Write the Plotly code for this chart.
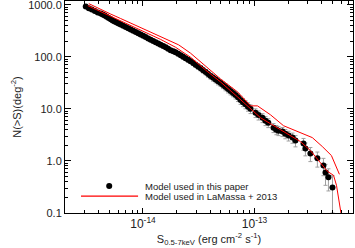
import plotly.graph_objects as go

# Black points: model used in this paper (flux in erg cm^-2 s^-1, N(>S) in deg^-2)
flux_paper = [
    3.07e-15, 3.27e-15, 3.48e-15, 3.70e-15, 3.93e-15, 4.18e-15, 4.36e-15, 4.54e-15,
    4.73e-15, 4.93e-15, 5.14e-15, 5.35e-15, 5.57e-15, 5.81e-15, 6.05e-15, 6.31e-15,
    6.65e-15, 7.00e-15, 7.37e-15, 7.76e-15, 8.17e-15, 8.61e-15, 9.06e-15, 9.53e-15,
    1.005e-14, 1.057e-14, 1.114e-14, 1.172e-14, 1.235e-14, 1.30e-14, 1.37e-14, 1.44e-14,
    1.52e-14, 1.60e-14, 1.68e-14, 1.77e-14, 1.87e-14, 1.96e-14, 2.07e-14, 2.18e-14,
    2.29e-14, 2.41e-14, 2.54e-14, 2.67e-14, 2.82e-14, 2.96e-14, 3.12e-14, 3.29e-14,
    3.46e-14, 3.65e-14, 3.84e-14, 4.04e-14, 4.26e-14, 4.48e-14, 4.71e-14, 4.97e-14,
    5.22e-14, 5.50e-14, 5.79e-14, 6.10e-14, 6.42e-14, 6.76e-14, 7.11e-14, 7.50e-14,
    7.88e-14, 8.30e-14, 8.75e-14, 9.21e-14, 1.021e-13, 1.087e-13, 1.18e-13, 1.255e-13,
    1.33e-13, 1.48e-13, 1.57e-13, 1.64e-13, 1.78e-13, 1.89e-13, 2.02e-13, 2.19e-13,
    2.33e-13, 2.75e-13, 2.86e-13, 3.17e-13, 3.66e-13, 4.15e-13, 4.33e-13, 4.60e-13,
    5.00e-13,
]
n_paper = [
    917, 857, 803, 752, 704, 674, 645, 617,
    584, 553, 524, 496, 475, 454, 435, 416,
    394, 372, 352, 334, 316, 299, 283, 268,
    254, 240, 225, 211, 200, 189, 179, 169,
    160, 152, 142, 133, 127, 122, 114, 107,
    100, 93.6, 87.6, 82, 76, 70.5, 65.3, 60.4,
    55.3, 50.7, 46.4, 42.5, 39.4, 36.5, 33.8, 31.3,
    28.6, 26.2, 24.0, 22.0, 20.2, 18.5, 16.6, 14.8,
    13.4, 12.2, 11.0, 10.0, 8.39, 7.6, 6.74, 5.91,
    5.41, 4.35, 3.98, 3.81, 3.65, 3.34, 3.06, 2.80,
    2.46, 2.15, 1.73, 1.39, 1.12, 0.82, 0.60, 0.485,
    0.31,
]
err_paper = [
    30, 28, 27, 26, 25, 24, 24, 23,
    23, 22, 22, 21, 21, 20, 20, 19,
    19, 18, 18, 17, 17, 16, 16, 15,
    15, 14, 14, 13, 13, 12.5, 12.5, 12,
    11.5, 11, 10.5, 10, 10, 9.5, 9.5, 9,
    9, 8.5, 8.5, 8, 8, 7.5, 7.5, 7,
    6.5, 6, 6, 5.5, 5.5, 5, 5, 4.5,
    4.2, 4, 3.8, 3.5, 3.2, 3, 2.8, 2.6,
    2.4, 2.2, 2.0, 1.9, 1.6, 1.5, 1.3, 1.15,
    1.05, 0.85, 0.8, 0.75, 0.72, 0.68, 0.65, 0.62,
    0.6, 0.55, 0.48, 0.42, 0.36, 0.3, 0.26, 0.22,
    0.21,
]

# Red lines: model used in LaMassa + 2013 (upper and lower curves)
flux_lm_hi = [
    3.27e-15, 4.18e-15, 5.14e-15, 6.31e-15, 7.76e-15, 9.53e-15, 1.172e-14, 1.44e-14,
    1.77e-14, 2.09e-14, 2.67e-14, 3.65e-14, 4.97e-14, 7.05e-14, 8.30e-14, 9.21e-14,
    1.064e-13, 1.205e-13, 1.39e-13, 1.82e-13, 2.75e-13, 3.30e-13, 4.05e-13, 4.89e-13,
    5.77e-13,
]
n_lm_hi = [
    1045, 803, 659, 541, 444, 365, 299, 246,
    202, 169, 117, 65.9, 37.3, 21.1, 14.8, 11.4,
    11.4, 9.57, 7.69, 4.74, 3.34, 2.80, 1.89, 1.27,
    0.553,
]
flux_lm_lo = [
    3.20e-15, 4.18e-15, 6.31e-15, 9.53e-15, 1.44e-14, 1.96e-14, 2.67e-14, 3.65e-14,
    4.97e-14, 7.05e-14, 9.21e-14, 1.132e-13, 1.39e-13, 1.89e-13, 2.58e-13, 3.17e-13,
    3.90e-13, 4.51e-13, 5.11e-13, 5.43e-13, 6.14e-13,
]
n_lm_lo = [
    957, 736, 474, 320, 215, 152, 97.8, 55.3,
    32.7, 16.9, 10.0, 6.74, 5.18, 3.49, 2.35, 1.58,
    0.936, 0.631, 0.529, 0.341, 0.0675,
]

y_tickvals = [0.1, 1, 10, 100, 1000]
y_ticktext = ["0.1", "1.0", "10.0", "100.0", "1000.0"]
x_tickvals = [1e-14, 1e-13]
x_ticktext = ["10<sup>-14</sup>", "10<sup>-13</sup>"]

legend_labels = ["Model used in this paper", "Model used in LaMassa + 2013"]

FONT = "Liberation Sans, Arial, sans-serif"
RED = "#ff0000"

fig = go.Figure()

fig.add_trace(go.Scatter(
    x=flux_paper, y=n_paper,
    mode="markers",
    marker=dict(color="black", size=6),
    error_y=dict(type="data", array=err_paper, color="#a0a0a0", thickness=1, width=2),
    showlegend=False,
))
for fx, ny in [(flux_lm_hi, n_lm_hi), (flux_lm_lo, n_lm_lo)]:
    fig.add_trace(go.Scatter(
        x=fx, y=ny, mode="lines",
        line=dict(color=RED, width=1),
        showlegend=False,
    ))

axis_common = dict(
    type="log",
    showgrid=False,
    zeroline=False,
    showline=True,
    linecolor="black",
    linewidth=1,
    mirror="allticks",
    ticks="inside",
    tickcolor="black",
    automargin=False,
    ticklabeloverflow="allow",
    minor=dict(ticks="inside", ticklen=3, tickcolor="black", dtick="D1", showgrid=False),
)

fig.update_layout(
    width=355, height=248,
    margin=dict(l=65, r=2, t=1, b=35),
    paper_bgcolor="white", plot_bgcolor="white",
    font=dict(family=FONT, color="#222"),
    xaxis=dict(
        axis_common,
        range=[-14.699, -12.117],
        tickvals=x_tickvals, ticktext=x_ticktext,
        ticklen=5,
        tickfont=dict(family=FONT, size=12, color="#222"),
        title=dict(text="S<sub>0.5-7keV</sub> (erg cm<sup>-2</sup> s<sup>-1</sup>)",
                   font=dict(family=FONT, size=11), standoff=2),
    ),
    yaxis=dict(
        axis_common,
        range=[-1, 3.07],
        tickvals=y_tickvals, ticktext=y_ticktext,
        ticklen=6,
        tickfont=dict(family=FONT, size=11, color="#222"),
        title=dict(text="N(>S)(deg<sup>-2</sup>)", font=dict(family=FONT, size=11), standoff=4),
    ),
)

# legend drawn by hand, IDL style
fig.add_shape(type="circle", xref="paper", yref="paper",
              x0=0.143, x1=0.164, y0=0.113, y1=0.141,
              fillcolor="black", line=dict(color="black", width=0))
fig.add_shape(type="line", xref="paper", yref="paper",
              x0=0.0556, x1=0.2537, y0=0.080, y1=0.080,
              line=dict(color=RED, width=1.2))
for label, ly in zip(legend_labels, [0.127, 0.080]):
    fig.add_annotation(text=label, xref="paper", yref="paper", x=0.271, y=ly,
                       xanchor="left", yanchor="middle", showarrow=False,
                       font=dict(family=FONT, size=9.5, color="#222"))

# the page body has a default 8px margin; drop it so the figure sits at the corner
fig.write_html("out.html", config={"displayModeBar": False},
               post_script="document.body.style.margin='0';")
